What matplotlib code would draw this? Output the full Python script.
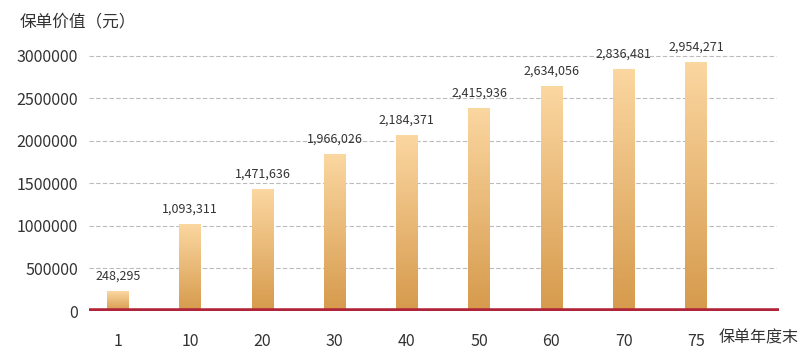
import numpy as np
import matplotlib.pyplot as plt
from matplotlib.colors import LinearSegmentedColormap

plt.rcParams['font.family'] = ['Noto Sans CJK SC', 'DejaVu Sans']

# 数据
years = ['1', '10', '20', '30', '40', '50', '60', '70', '75']
bar_values = [232000, 1023000, 1435000, 1842000, 2072000, 2388000, 2646000, 2846000, 2929000]
value_labels = ['248,295', '1,093,311', '1,471,636', '1,966,026', '2,184,371',
                '2,415,936', '2,634,056', '2,836,481', '2,954,271']
yticks = [0, 500000, 1000000, 1500000, 2000000, 2500000, 3000000]

fig = plt.figure(figsize=(8.11, 3.61), dpi=100)
ax = fig.add_axes([89 / 811, 50 / 361, 690 / 811, 261 / 361])

x = np.arange(len(years))
cmap = LinearSegmentedColormap.from_list('gold', ['#d69a4c', '#fbd7a1'])
grad = np.linspace(0, 1, 256).reshape(-1, 1)

bars = ax.bar(x, bar_values, width=0.3, color='none', zorder=2)
for b in bars:
    x0, w, h = b.get_x(), b.get_width(), b.get_height()
    im = ax.imshow(grad, cmap=cmap, origin='lower', aspect='auto',
                   extent=[x0, x0 + w, 0, h], zorder=2)
    im.set_clip_path(b)

for xi, v, lab in zip(x, bar_values, value_labels):
    ax.annotate(lab, (xi, v), xytext=(0, 6), textcoords='offset points',
                ha='center', va='bottom', fontsize=9, color='#333333')

ax.set_xlim(-0.4, 9.15)
ax.set_ylim(0, 3070000)
ax.set_yticks(yticks)
ax.set_yticklabels([str(t) for t in yticks])
ax.set_xticks(x)
ax.set_xticklabels(years)
ax.tick_params(length=0, labelsize=11.5, colors='#333333')
ax.tick_params(axis='x', pad=16)
ax.tick_params(axis='y', pad=8)

for t in yticks[1:]:
    ax.axhline(t, xmax=0.995, color='#bbbbbb', linestyle=(0, (4, 2)), linewidth=0.8, zorder=1)
ax.axhline(0, color='#b0243a', linewidth=4, zorder=3)

for s in ax.spines.values():
    s.set_visible(False)

fig.text(20 / 811, 1 - 22 / 361, '保单价值（元）', fontsize=12, color='#333333', va='center', ha='left')
fig.text(719 / 811, 1 - 338 / 361, '保单年度末', fontsize=11.5, color='#333333', va='center', ha='left')

fig.savefig('out.png', dpi=100)
